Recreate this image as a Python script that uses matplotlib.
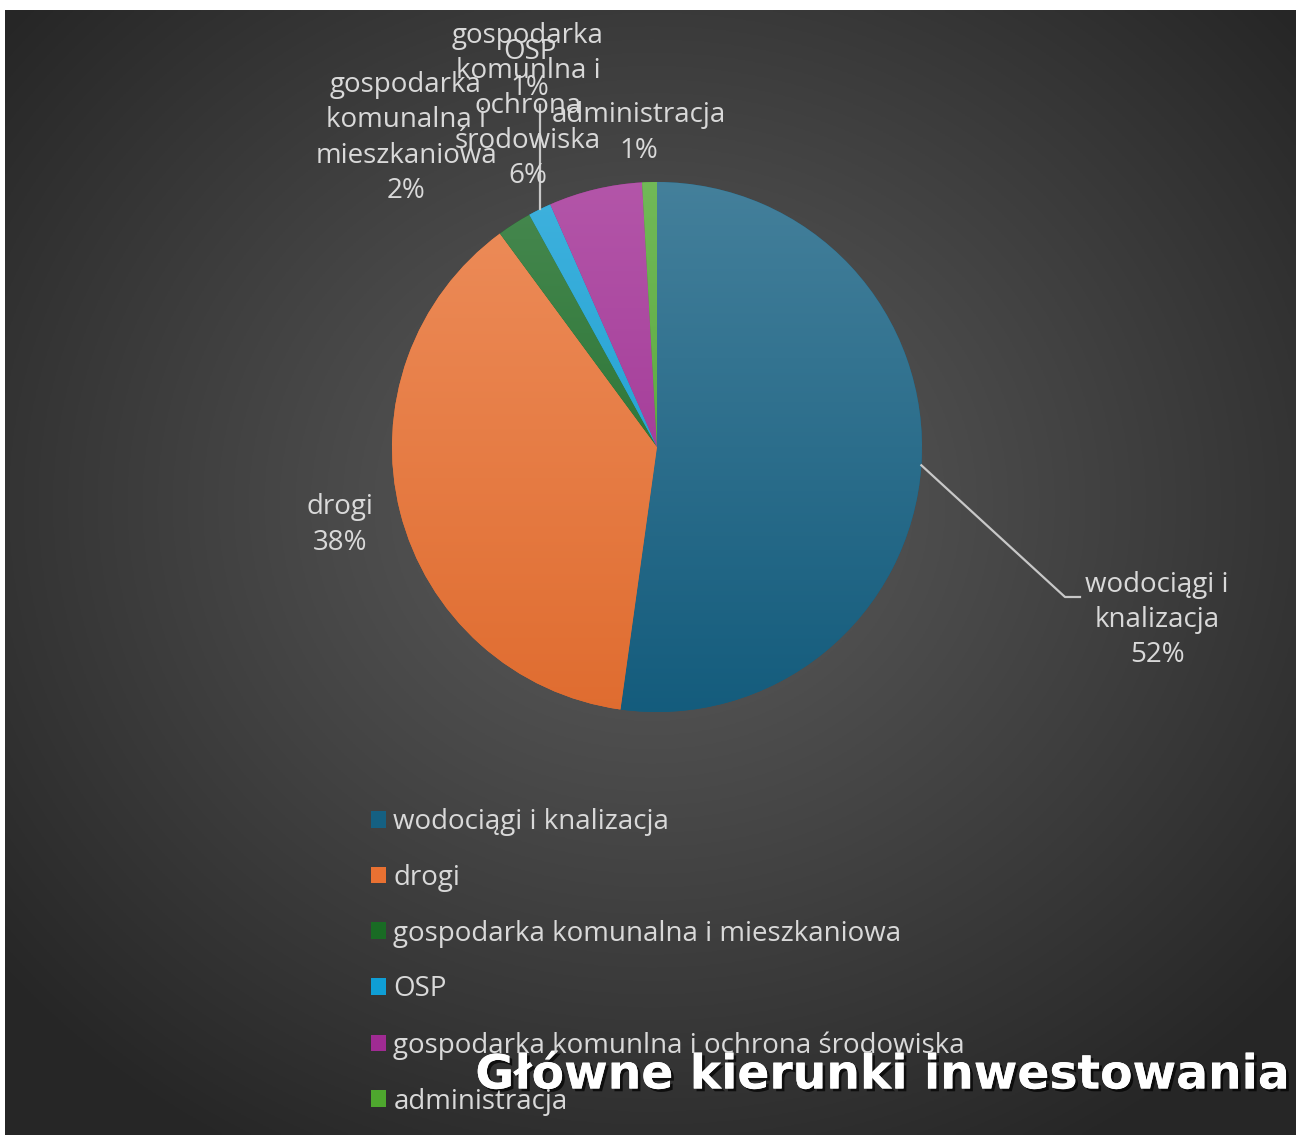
import matplotlib.pyplot as plt
import matplotlib.patheffects as pe
import numpy as np
from matplotlib.patches import Patch
from matplotlib.colors import to_rgb

categories = ["wodociągi i knalizacja", "drogi", "gospodarka komunalna i mieszkaniowa",
              "OSP", "gospodarka komunlna i ochrona środowiska", "administracja"]
values = [52.2, 37.7, 2.1, 1.4, 5.7, 0.9]
label_names = ["wodociągi i\nknalizacja", "drogi", "gospodarka\nkomunalna i\nmieszkaniowa",
               "OSP", "gospodarka\nkomunlna i\nochrona\nśrodowiska", "administracja"]
colors = ["#156082", "#E97132", "#196B24", "#0F9ED5", "#A02B93", "#4EA72E"]
title = "Główne kierunki inwestowania"

W, H = 1298, 1135
fig = plt.figure(figsize=(W / 100, H / 100), dpi=100, facecolor="white")

# radial gradient background (white strip top/left like the screenshot)
bg = fig.add_axes([5 / W, 0, (W - 7) / W, (H - 10) / H])
yy, xx = np.mgrid[0:400, 0:460]
d = np.sqrt(((xx - 230) / 300.0) ** 2 + ((yy - 175) / 265.0) ** 2)
d = np.clip(d, 0, 1)
lum = 0.36 - (0.36 - 0.15) * d ** 1.1
bg.imshow(np.dstack([lum, lum, lum]), aspect="auto", extent=[0, 1, 0, 1])
bg.axis("off")

# pie axes in pixel coordinates (y measured from bottom)
ax = fig.add_axes([0, 0, 1, 1])
ax.patch.set_alpha(0)
cx, cy, r = 657, H - 447, 265
wedges, _ = ax.pie(values, colors=colors, startangle=90, counterclock=False,
                   center=(cx, cy), radius=r, wedgeprops=dict(linewidth=0))
ax.set_xlim(0, W)
ax.set_ylim(0, H)
ax.set_aspect("auto")
ax.axis("off")

# soft vertical shading inside every slice
t = np.linspace(0, 1, 256)[:, None]
for w, c in zip(wedges, colors):
    base = np.array(to_rgb(c))
    top = base + (1 - base) * 0.2
    bot = base * 0.96
    grad = bot[None, None, :] * (1 - t[..., None]) + top[None, None, :] * t[..., None]
    grad = np.repeat(grad, 2, axis=1)
    im = ax.imshow(grad, origin="lower", extent=[cx - r, cx + r, cy - r, cy + r],
                   aspect="auto", zorder=w.get_zorder() + 0.1)
    im.set_clip_path(w)
ax.set_xlim(0, W)
ax.set_ylim(0, H)

txt_color = "#d9d9d9"
font = "Open Sans"
fs = 20
label_pos = [(1157, 620), (340, 525), (406, 138), (530, 70), (528, 106), (639, 133)]
for name, v, (lx, ly) in zip(label_names, values, label_pos):
    ax.text(lx, H - ly, f"{name}\n{v:.0f}%", ha="center", va="center", color=txt_color,
            fontsize=fs, family=font, linespacing=1.34, zorder=5)

# leader lines from slice mid-angles
def edge_point(w):
    ang = np.deg2rad((w.theta1 + w.theta2) / 2)
    return cx + r * np.cos(ang), cy + r * np.sin(ang)

x0, y0 = edge_point(wedges[0])
ax.plot([x0, 1065, 1080], [y0, H - 597, H - 597], color="#c8c8c8", lw=1.6, zorder=4)
x3, y3 = edge_point(wedges[3])
ax.plot([x3, x3], [y3, H - 105], color="#c8c8c8", lw=1.6, zorder=4)

handles = [Patch(facecolor=c, edgecolor="none") for c in colors]
leg = fig.legend(handles, categories, loc="upper left", bbox_to_anchor=(360 / W, 1 - 797 / H),
                 frameon=False, fontsize=fs, handlelength=0.55, handleheight=0.55,
                 handletextpad=0.25, labelspacing=1.0, borderaxespad=0)
for tx in leg.get_texts():
    tx.set_color(txt_color)
    tx.set_family(font)

fig.text(1291 / W, 1 - 1076 / H, title, ha="right", va="center", color="white",
         fontsize=34, family="DejaVu Sans", fontweight="bold",
         path_effects=[pe.withSimplePatchShadow(offset=(2, -2), shadow_rgbFace="black", alpha=0.7),
                       pe.Normal()])

fig.savefig("out.png", dpi=100, facecolor="white")
